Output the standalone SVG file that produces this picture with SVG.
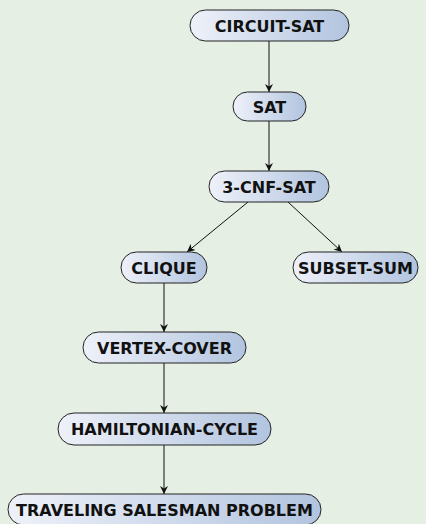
<svg xmlns="http://www.w3.org/2000/svg" width="426" height="524" viewBox="0 0 426 524">
  <defs>
    <linearGradient id="nodeFill" x1="0" y1="0" x2="1" y2="0">
      <stop offset="0" stop-color="#eef1f9"/>
      <stop offset="1" stop-color="#b2c4df"/>
    </linearGradient>
    <marker id="arrow" viewBox="0 0 10 10" refX="10" refY="5" markerWidth="8" markerHeight="8" orient="auto" markerUnits="userSpaceOnUse">
      <path d="M0,0 L10,5 L0,10 L3,5 Z" fill="#111"/>
    </marker>
    <style>
      .node rect { fill: url(#nodeFill); stroke: #222; stroke-width: 1; }
      .node text { font-family: "DejaVu Sans", sans-serif; font-weight: bold; font-size: 16px; fill: #111; text-anchor: middle; dominant-baseline: central; }
      .edges line { stroke: #111; stroke-width: 1; marker-end: url(#arrow); }
    </style>
  </defs>
  <rect width="426" height="524" fill="#e5efe3"/>

  <g class="edges">
    <line x1="269" y1="41" x2="269" y2="92"/>
    <line x1="269" y1="121" x2="269" y2="171"/>
    <line x1="248" y1="202" x2="187" y2="252"/>
    <line x1="288" y1="202" x2="342" y2="252"/>
    <line x1="164" y1="283" x2="164" y2="332"/>
    <line x1="164" y1="363" x2="164" y2="413"/>
    <line x1="164" y1="445" x2="164" y2="494"/>
  </g>

  <g id="circuit-sat" class="node">
    <rect x="190" y="10" width="159" height="31" rx="15.5"/>
    <text x="269.5" y="26">CIRCUIT-SAT</text>
  </g>
  <g id="sat" class="node">
    <rect x="233" y="92" width="73" height="29" rx="14.5"/>
    <text x="269.5" y="107">SAT</text>
  </g>
  <g id="3-cnf-sat" class="node">
    <rect x="209" y="171" width="120" height="31" rx="15.5"/>
    <text x="269" y="187">3-CNF-SAT</text>
  </g>
  <g id="clique" class="node">
    <rect x="121" y="252" width="86" height="31" rx="15.5"/>
    <text x="164" y="268">CLIQUE</text>
  </g>
  <g id="subset-sum" class="node">
    <rect x="293" y="252" width="125" height="31" rx="15.5"/>
    <text x="355.5" y="268">SUBSET-SUM</text>
  </g>
  <g id="vertex-cover" class="node">
    <rect x="83" y="332" width="163" height="31" rx="15.5"/>
    <text x="164.5" y="348">VERTEX-COVER</text>
  </g>
  <g id="hamiltonian-cycle" class="node">
    <rect x="58" y="413" width="213" height="32" rx="16"/>
    <text x="164.5" y="429">HAMILTONIAN-CYCLE</text>
  </g>
  <g id="tsp" class="node">
    <rect x="8" y="494" width="313" height="31" rx="15.5"/>
    <text x="164.5" y="510">TRAVELING SALESMAN PROBLEM</text>
  </g>
</svg>
